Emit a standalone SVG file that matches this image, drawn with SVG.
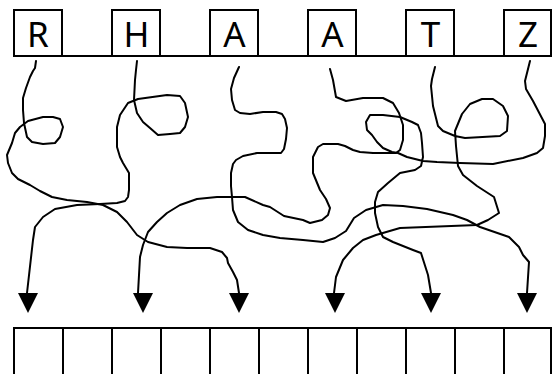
<svg xmlns="http://www.w3.org/2000/svg" width="552" height="374" viewBox="0 0 552 374">
<style>
.box{fill:#fff;stroke:#000;stroke-width:2}
.lbl{font-family:"Noto Sans","DejaVu Sans",sans-serif;font-size:35px;fill:#000;text-anchor:middle}
.wire{fill:none;stroke:#000;stroke-width:2;stroke-linejoin:round;stroke-linecap:round}
.grid{fill:none;stroke:#000;stroke-width:2}
</style>
<defs>
<polygon id="ah" points="-10,0 10,0 0,20" fill="#000"/>
</defs>
<rect width="552" height="374" fill="#fff"/>
<line class="grid" x1="14" y1="56" x2="552" y2="56"/>
<g id="node-R"><rect class="box" x="14" y="10" width="48" height="46"/><text class="lbl" x="38" y="47">R</text></g>
<g id="node-H"><rect class="box" x="112" y="10" width="48" height="46"/><text class="lbl" x="136.5" y="47">H</text></g>
<g id="node-A1"><rect class="box" x="210" y="10" width="48" height="46"/><text class="lbl" x="234.5" y="47">A</text></g>
<g id="node-A2"><rect class="box" x="308" y="10" width="48" height="46"/><text class="lbl" x="332.5" y="47">A</text></g>
<g id="node-T"><rect class="box" x="406" y="10" width="48" height="46"/><text class="lbl" x="430.5" y="47">T</text></g>
<g id="node-Z"><rect class="box" x="504" y="10" width="47" height="46"/><text class="lbl" x="528" y="47">Z</text></g>
<g id="array">
<path class="grid" d="M14,375 V328 H551 V375 M63,328 V375 M112,328 V375 M161,328 V375 M210,328 V375 M259,328 V375 M308,328 V375 M357,328 V375 M406,328 V375 M455,328 V375 M504,328 V375"/>
</g>
<g id="connectors">
<polyline class="wire" points="137,61 136,70 135,80 134,100 137,113 143,122 150,128 158,135 170,134 180,133 185,127 188,117 185,103 180,96 167,95 138,99 128,103 120,115 117,127 117,147 120,157 123,163 129,173 129,190 128,197 125,201 117,203 100,204 77,205 55,209 43,217 35,227 33,240 27,293"/>
<polyline class="wire" points="36,61 35,68 33,71 30,77 26,88 23,98 23,110 24,123 27,137 32,142 43,144 55,143 60,137 63,127 60,119 53,117 43,117 28,121 20,127 15,133 12,143 7,155 8,163 12,173 18,179 30,185 40,191 52,197 67,200 87,202 103,205 117,212 127,222 137,235 148,242 167,247 187,248 210,248 222,252 227,258 228,263 233,272 237,280 239,293"/>
<polyline class="wire" points="239,67 234,78 231,89 232,100 235,110 240,113 250,114 263,112 276,112 282,114 285,119 287,128 286,139 284,149 281,153 270,153 257,153 243,156 236,160 233,164 231,173 231,186 232,197 233,210 238,222 248,230 263,235 280,238 303,240 323,242 335,238 346,231 354,218 366,210 383,205 403,206 427,209 453,215 467,220 480,227 509,237 519,247 523,255 529,262 527,293"/>
<polyline class="wire" points="330,69 333,80 336,97 346,101 363,98 383,98 393,103 399,113 403,125 403,140 400,150 396,153 392,153 373,153 360,152 353,150 345,146 338,144 323,144 318,147 313,157 313,173 320,190 326,199 330,208 328,215 322,220 310,223 303,220 284,216 270,207 263,205 245,197 217,197 197,199 180,205 167,213 157,222 148,232 143,245 140,257 138,293"/>
<polyline class="wire" points="530,61 527,73 525,81 526,89 533,101 545,124 545,136 543,148 537,153 523,158 493,164 460,163 437,162 423,161 407,157 398,153 392,152 383,148 377,142 372,135 367,130 366,122 370,115 383,115 400,117 412,122 418,125 421,133 422,143 423,157 421,166 415,170 405,172 400,173 388,183 378,192 375,202 375,213 378,227 383,237 393,242 413,250 421,253 428,275 431,293"/>
<polyline class="wire" points="435,67 432,79 431,86 433,106 438,126 443,131 455,136 465,138 500,136 507,131 508,116 503,106 493,99 482,99 470,104 462,114 455,131 456,146 458,166 463,175 477,186 494,197 499,213 488,220 477,225 400,228 376,235 363,240 353,248 343,260 336,277 334,293"/>
<use href="#ah" x="28" y="293"/>
<use href="#ah" x="143" y="293"/>
<use href="#ah" x="239" y="293"/>
<use href="#ah" x="335" y="293"/>
<use href="#ah" x="431" y="293"/>
<use href="#ah" x="527" y="293"/>
</g>
</svg>
